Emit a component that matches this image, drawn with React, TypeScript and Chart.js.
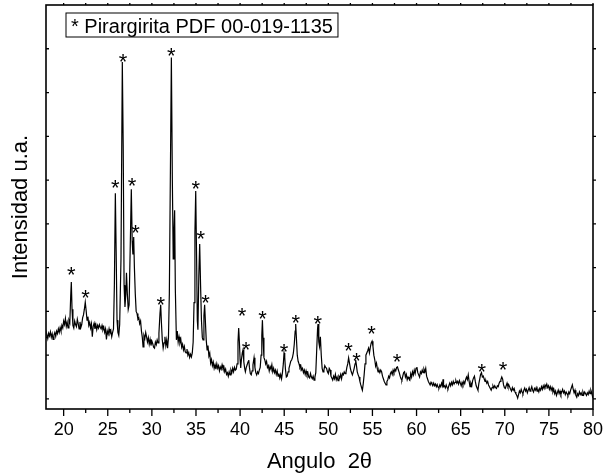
import React, { useEffect, useRef } from "react";
import { Chart, registerables } from "chart.js";

Chart.register(...registerables);

// XRD pattern: [2θ, intensity (a.u.)]
const xrdPoints: [number, number][] = [
  [18.0, 1.4], [18.1, 1.47], [18.2, 1.38], [18.3, 1.5], [18.4, 1.44], [18.5, 1.53], [18.6, 1.41], [18.7, 1.49], [18.8, 1.36], [18.9, 1.46],
  [19.0, 1.52], [19.1, 1.43], [19.2, 1.55], [19.3, 1.49], [19.4, 1.6], [19.5, 1.52], [19.6, 1.63], [19.7, 1.55], [19.8, 1.68], [19.9, 1.62],
  [20.0, 1.78], [20.1, 1.7], [20.2, 1.84], [20.3, 1.66], [20.4, 1.75], [20.5, 1.62], [20.6, 1.8], [20.7, 1.74], [20.8, 2.35], [20.87, 2.67],
  [20.95, 2.05], [21.05, 1.68], [21.15, 1.62], [21.25, 1.78], [21.35, 1.7], [21.45, 1.65], [21.55, 1.82], [21.65, 1.72], [21.75, 1.6], [21.85, 1.76],
  [21.95, 1.63], [22.05, 1.7], [22.15, 1.85], [22.25, 1.92], [22.35, 2.05], [22.45, 2.21], [22.55, 2.02], [22.65, 1.8], [22.75, 1.88], [22.85, 1.68],
  [22.95, 1.75], [23.05, 1.62], [23.15, 1.72], [23.25, 1.42], [23.35, 1.66], [23.45, 1.73], [23.55, 1.6], [23.65, 1.7], [23.75, 1.58], [23.85, 1.68],
  [23.95, 1.62], [24.05, 1.7], [24.15, 1.64], [24.25, 1.6], [24.35, 1.68], [24.45, 1.58], [24.55, 1.64], [24.65, 1.52], [24.75, 1.6], [24.85, 1.36],
  [24.95, 1.55], [25.05, 1.48], [25.15, 1.6], [25.25, 1.5], [25.35, 1.56], [25.45, 1.42], [25.55, 1.52], [25.65, 1.6], [25.75, 2.6], [25.86, 4.7],
  [25.95, 3.4], [26.05, 1.8], [26.15, 1.52], [26.25, 1.45], [26.35, 1.7], [26.5, 3.2], [26.65, 7.7], [26.75, 5.8], [26.85, 2.6], [26.95, 2.1],
  [27.05, 2.4], [27.12, 2.88], [27.22, 2.4], [27.32, 2.05], [27.42, 2.15], [27.55, 3.5], [27.67, 4.79], [27.77, 3.6], [27.85, 3.3], [27.94, 3.7],
  [28.02, 3.0], [28.12, 2.4], [28.22, 2.0], [28.32, 1.95], [28.42, 1.82], [28.52, 1.85], [28.62, 1.72], [28.72, 1.78], [28.82, 1.55], [28.92, 1.4],
  [29.0, 1.19], [29.1, 1.45], [29.2, 1.38], [29.3, 1.52], [29.4, 1.42], [29.5, 1.3], [29.6, 1.4], [29.7, 1.25], [29.8, 1.36], [29.9, 1.22],
  [30.0, 1.32], [30.1, 1.26], [30.2, 1.18], [30.3, 1.16], [30.4, 1.3], [30.5, 1.24], [30.6, 1.35], [30.7, 1.28], [30.8, 1.5], [30.92, 1.95],
  [31.0, 2.15], [31.08, 1.75], [31.18, 1.35], [31.28, 1.16], [31.38, 1.28], [31.48, 1.42], [31.58, 1.22], [31.68, 1.35], [31.78, 1.16], [31.88, 1.4],
  [31.98, 2.4], [32.1, 5.2], [32.21, 7.8], [32.32, 5.0], [32.42, 3.2], [32.5, 3.8], [32.58, 4.31], [32.66, 2.5], [32.78, 1.35], [32.88, 1.55],
  [32.98, 1.3], [33.08, 1.42], [33.18, 1.28], [33.28, 1.36], [33.38, 1.18], [33.48, 1.25], [33.58, 1.12], [33.68, 1.2], [33.78, 1.08], [33.88, 1.05],
  [33.98, 1.14], [34.08, 1.0], [34.18, 1.06], [34.28, 0.95], [34.38, 1.02], [34.48, 0.96], [34.58, 1.05], [34.68, 1.3], [34.78, 2.2], [34.88, 3.8],
  [34.97, 4.75], [35.07, 3.2], [35.15, 1.8], [35.22, 1.58], [35.32, 2.8], [35.42, 3.54], [35.52, 2.6], [35.62, 1.8], [35.72, 1.4], [35.8, 1.35],
  [35.9, 1.9], [35.98, 2.15], [36.06, 1.8], [36.16, 1.35], [36.26, 1.12], [36.36, 1.22], [36.46, 0.98], [36.56, 1.05], [36.66, 0.82], [36.76, 0.9],
  [36.86, 0.76], [36.96, 0.84], [37.06, 0.7], [37.16, 0.78], [37.26, 0.68], [37.36, 0.8], [37.46, 0.7], [37.56, 0.76], [37.66, 0.64], [37.76, 0.73],
  [37.86, 0.68], [37.96, 0.78], [38.06, 0.7], [38.16, 0.74], [38.26, 0.62], [38.36, 0.68], [38.46, 0.56], [38.56, 0.6], [38.66, 0.52], [38.76, 0.62],
  [38.86, 0.55], [38.96, 0.66], [39.06, 0.6], [39.16, 0.7], [39.26, 0.62], [39.36, 0.72], [39.46, 0.66], [39.56, 0.68], [39.66, 0.8], [39.76, 1.3],
  [39.84, 1.62], [39.92, 1.3], [40.0, 0.9], [40.07, 0.71], [40.15, 0.9], [40.25, 1.05], [40.33, 1.12], [40.42, 0.85], [40.52, 0.7], [40.6, 0.62],
  [40.7, 0.72], [40.8, 0.78], [40.9, 0.85], [40.98, 0.89], [41.06, 0.72], [41.16, 0.58], [41.26, 0.55], [41.36, 0.64], [41.46, 0.78], [41.58, 0.94],
  [41.68, 0.72], [41.78, 0.6], [41.88, 0.55], [41.98, 0.62], [42.08, 0.58], [42.18, 0.66], [42.28, 0.72], [42.38, 1.0], [42.46, 1.45], [42.53, 1.8],
  [42.6, 1.4], [42.7, 0.95], [42.8, 0.89], [42.9, 0.8], [43.0, 0.86], [43.1, 0.72], [43.2, 0.76], [43.3, 0.64], [43.4, 0.74], [43.5, 0.68],
  [43.6, 0.78], [43.7, 0.62], [43.8, 0.7], [43.9, 0.6], [44.0, 0.66], [44.1, 0.56], [44.2, 0.64], [44.3, 0.52], [44.4, 0.58], [44.5, 0.48],
  [44.6, 0.56], [44.7, 0.46], [44.8, 0.6], [44.9, 0.8], [44.98, 1.05], [45.06, 0.95], [45.14, 0.68], [45.24, 0.5], [45.34, 0.52], [45.44, 0.62],
  [45.54, 0.7], [45.64, 0.78], [45.74, 0.86], [45.84, 0.89], [45.94, 0.95], [46.04, 1.05], [46.14, 1.25], [46.24, 1.55], [46.3, 1.71], [46.38, 1.4],
  [46.48, 1.0], [46.58, 0.86], [46.68, 0.8], [46.78, 0.72], [46.88, 0.76], [46.98, 0.66], [47.08, 0.7], [47.18, 0.6], [47.28, 0.66], [47.38, 0.56],
  [47.48, 0.64], [47.58, 0.55], [47.68, 0.6], [47.78, 0.5], [47.88, 0.48], [47.98, 0.58], [48.08, 0.5], [48.18, 0.46], [48.28, 0.52], [48.38, 0.43],
  [48.48, 0.5], [48.58, 0.6], [48.68, 1.1], [48.78, 1.6], [48.83, 1.71], [48.92, 1.3], [49.0, 1.2], [49.1, 1.42], [49.2, 1.0], [49.3, 0.7],
  [49.4, 0.62], [49.5, 0.66], [49.6, 0.76], [49.7, 0.72], [49.8, 0.7], [49.9, 0.62], [50.0, 0.58], [50.1, 0.7], [50.2, 0.66], [50.3, 0.52],
  [50.4, 0.48], [50.5, 0.43], [50.6, 0.52], [50.7, 0.46], [50.8, 0.56], [50.9, 0.44], [51.0, 0.5], [51.1, 0.42], [51.2, 0.52], [51.3, 0.48],
  [51.4, 0.56], [51.5, 0.46], [51.6, 0.58], [51.7, 0.55], [51.8, 0.62], [51.9, 0.58], [52.0, 0.6], [52.1, 0.72], [52.2, 0.8], [52.3, 0.94],
  [52.4, 0.82], [52.5, 0.7], [52.6, 0.62], [52.73, 0.55], [52.83, 0.62], [52.93, 0.7], [53.03, 0.8], [53.1, 0.89], [53.18, 0.78], [53.28, 0.62],
  [53.38, 0.55], [53.48, 0.5], [53.58, 0.4], [53.68, 0.32], [53.78, 0.25], [53.86, 0.2], [53.96, 0.35], [54.06, 0.55], [54.16, 0.8], [54.26, 1.0],
  [54.36, 1.05], [54.46, 1.1], [54.56, 1.16], [54.66, 1.05], [54.76, 1.18], [54.86, 1.28], [54.96, 1.32], [55.06, 1.2], [55.16, 1.0], [55.26, 0.9],
  [55.36, 0.75], [55.46, 0.82], [55.56, 0.68], [55.64, 0.62], [55.74, 0.66], [55.84, 0.6], [55.94, 0.66], [56.04, 0.62], [56.14, 0.52], [56.24, 0.46],
  [56.34, 0.4], [56.44, 0.36], [56.54, 0.32], [56.64, 0.4], [56.74, 0.44], [56.84, 0.52], [56.94, 0.48], [57.04, 0.58], [57.14, 0.62], [57.24, 0.56],
  [57.34, 0.66], [57.44, 0.6], [57.54, 0.68], [57.64, 0.64], [57.74, 0.72], [57.84, 0.73], [57.94, 0.66], [58.04, 0.6], [58.14, 0.52], [58.24, 0.46],
  [58.34, 0.43], [58.44, 0.52], [58.54, 0.6], [58.64, 0.62], [58.74, 0.5], [58.84, 0.56], [58.94, 0.44], [59.04, 0.5], [59.14, 0.46], [59.24, 0.43],
  [59.34, 0.58], [59.44, 0.5], [59.54, 0.62], [59.64, 0.55], [59.74, 0.66], [59.84, 0.58], [59.94, 0.7], [60.04, 0.73], [60.14, 0.6], [60.24, 0.55],
  [60.34, 0.5], [60.44, 0.62], [60.54, 0.58], [60.64, 0.66], [60.74, 0.6], [60.84, 0.68], [60.94, 0.62], [61.04, 0.7], [61.14, 0.52], [61.24, 0.46],
  [61.34, 0.4], [61.44, 0.36], [61.54, 0.32], [61.64, 0.38], [61.74, 0.34], [61.84, 0.3], [61.94, 0.36], [62.04, 0.3], [62.14, 0.34], [62.24, 0.28],
  [62.34, 0.33], [62.44, 0.27], [62.54, 0.25], [62.64, 0.32], [62.74, 0.28], [62.84, 0.36], [62.94, 0.3], [63.0, 0.45], [63.06, 0.28], [63.16, 0.3],
  [63.26, 0.25], [63.36, 0.32], [63.46, 0.26], [63.56, 0.23], [63.66, 0.3], [63.76, 0.36], [63.86, 0.3], [63.96, 0.38], [64.06, 0.32], [64.16, 0.4],
  [64.26, 0.34], [64.36, 0.38], [64.46, 0.42], [64.56, 0.36], [64.66, 0.4], [64.76, 0.34], [64.86, 0.42], [64.96, 0.36], [65.06, 0.3], [65.16, 0.38],
  [65.26, 0.32], [65.36, 0.4], [65.46, 0.35], [65.56, 0.44], [65.66, 0.5], [65.76, 0.44], [65.86, 0.55], [65.96, 0.4], [66.06, 0.28], [66.16, 0.36],
  [66.26, 0.3], [66.36, 0.42], [66.46, 0.48], [66.56, 0.52], [66.66, 0.4], [66.76, 0.3], [66.86, 0.25], [66.96, 0.2], [67.06, 0.35], [67.16, 0.45],
  [67.26, 0.56], [67.36, 0.6], [67.46, 0.5], [67.56, 0.52], [67.66, 0.46], [67.76, 0.4], [67.86, 0.42], [67.96, 0.36], [68.06, 0.4], [68.16, 0.32],
  [68.26, 0.28], [68.36, 0.24], [68.46, 0.2], [68.56, 0.26], [68.66, 0.3], [68.76, 0.25], [68.86, 0.3], [68.96, 0.26], [69.06, 0.24], [69.16, 0.3],
  [69.26, 0.28], [69.36, 0.36], [69.46, 0.4], [69.56, 0.44], [69.66, 0.5], [69.76, 0.45], [69.86, 0.32], [69.96, 0.26], [70.06, 0.24], [70.16, 0.3],
  [70.26, 0.36], [70.36, 0.28], [70.46, 0.32], [70.56, 0.27], [70.66, 0.22], [70.76, 0.18], [70.86, 0.26], [70.96, 0.2], [71.06, 0.24], [71.16, 0.16],
  [71.26, 0.12], [71.36, 0.08], [71.46, 0.02], [71.56, 0.1], [71.66, 0.18], [71.76, 0.14], [71.86, 0.22], [71.96, 0.16], [72.06, 0.12], [72.16, 0.2],
  [72.26, 0.25], [72.36, 0.18], [72.46, 0.22], [72.56, 0.14], [72.66, 0.2], [72.76, 0.26], [72.86, 0.18], [72.96, 0.22], [73.06, 0.28], [73.16, 0.2],
  [73.26, 0.16], [73.36, 0.24], [73.46, 0.2], [73.56, 0.26], [73.66, 0.18], [73.76, 0.22], [73.86, 0.16], [73.96, 0.24], [74.06, 0.2], [74.16, 0.28],
  [74.26, 0.22], [74.36, 0.3], [74.46, 0.24], [74.56, 0.32], [74.66, 0.28], [74.76, 0.34], [74.86, 0.26], [74.96, 0.3], [75.06, 0.22], [75.16, 0.28],
  [75.26, 0.2], [75.36, 0.26], [75.46, 0.16], [75.56, 0.22], [75.66, 0.12], [75.76, 0.18], [75.86, 0.08], [75.96, 0.14], [76.06, 0.2], [76.16, 0.12],
  [76.26, 0.18], [76.36, 0.1], [76.46, 0.16], [76.56, 0.22], [76.66, 0.14], [76.76, 0.18], [76.86, 0.1], [76.96, 0.16], [77.06, 0.12], [77.16, 0.08],
  [77.26, 0.16], [77.36, 0.12], [77.46, 0.2], [77.56, 0.26], [77.66, 0.32], [77.76, 0.22], [77.86, 0.14], [77.96, 0.2], [78.06, 0.08], [78.16, 0.04],
  [78.26, 0.12], [78.36, 0.08], [78.46, 0.16], [78.56, 0.1], [78.66, 0.14], [78.76, 0.08], [78.86, 0.16], [78.96, 0.1], [79.06, 0.16], [79.16, 0.12],
  [79.26, 0.08], [79.36, 0.14], [79.46, 0.1], [79.56, 0.18], [79.66, 0.12], [79.76, 0.2], [79.86, 0.14], [79.96, 0.04], [80.0, 0.02],
];

// Peak markers "*" : [2θ, height]
const starMarks: [number, number][] = [
  [20.87, 2.95], [22.49, 2.43], [25.86, 4.94], [26.72, 7.82], [27.74, 4.98], [28.16, 3.91], [31.0, 2.28], [32.21, 7.97],
  [34.97, 4.92], [35.53, 3.78], [36.07, 2.31], [40.22, 2.03], [40.67, 1.25], [42.53, 1.96], [44.98, 1.19], [46.3, 1.87],
  [48.8, 1.83], [52.28, 1.23], [53.19, 1.0], [54.89, 1.61], [57.79, 0.97], [67.39, 0.75], [69.81, 0.79],
];

const xMajorTicks = [20, 25, 30, 35, 40, 45, 50, 55, 60, 65, 70, 75, 80];
const xMinorTicks = [22.5, 27.5, 32.5, 37.5, 42.5, 47.5, 52.5, 57.5, 62.5, 67.5, 72.5, 77.5];
const yTicks = [0, 1, 2, 3, 4, 5, 6, 7, 8];

const X_MIN = 18;
const X_MAX = 80;
const Y_MIN = -0.23;
const Y_MAX = 9;

const legendLabel = "* Pirargirita PDF 00-019-1135";
const xTitle = "Angulo  2θ";
const yTitle = "Intensidad u.a.";

const FONT = "Arial, 'Liberation Sans', sans-serif";

const decorPlugin = {
  id: "decor",
  afterDraw(chart: any) {
    const { ctx, chartArea, scales } = chart;
    const xs = scales.x;
    const ys = scales.y;
    const { left, right, top, bottom } = chartArea;
    ctx.save();
    ctx.strokeStyle = "#000";
    ctx.fillStyle = "#000";
    ctx.lineWidth = 1.6;
    ctx.strokeRect(left, top, right - left, bottom - top);

    ctx.lineWidth = 1.3;
    ctx.beginPath();
    xMajorTicks.forEach((v) => {
      const px = xs.getPixelForValue(v);
      ctx.moveTo(px, bottom);
      ctx.lineTo(px, bottom + 7);
      ctx.moveTo(px, top);
      ctx.lineTo(px, top - 2);
    });
    xMinorTicks.forEach((v) => {
      const px = xs.getPixelForValue(v);
      ctx.moveTo(px, bottom);
      ctx.lineTo(px, bottom + 4);
      ctx.moveTo(px, top);
      ctx.lineTo(px, top - 2);
    });
    yTicks.forEach((v) => {
      const py = ys.getPixelForValue(v);
      ctx.moveTo(left, py);
      ctx.lineTo(left + 3, py);
      ctx.moveTo(right, py);
      ctx.lineTo(right + 3, py);
    });
    ctx.stroke();

    // peak markers
    const starSize = 22;
    ctx.font = `${starSize}px ${FONT}`;
    ctx.textAlign = "center";
    ctx.textBaseline = "alphabetic";
    starMarks.forEach(([x, y]) => {
      const px = xs.getPixelForValue(x);
      const py = ys.getPixelForValue(y);
      ctx.fillText("*", px, py + starSize * 0.57);
    });

    // legend box
    ctx.font = `20px ${FONT}`;
    ctx.textAlign = "left";
    const tw = ctx.measureText(legendLabel).width;
    const bx = left + 20;
    const by = top + 8;
    ctx.lineWidth = 1;
    ctx.strokeRect(bx, by, tw + 10, 24);
    ctx.fillText(legendLabel, bx + 5, by + 19.5);
    ctx.restore();
  },
};

export default function App() {
  const canvasRef = useRef<HTMLCanvasElement | null>(null);

  useEffect(() => {
    document.body.style.margin = "0";
    const canvas = canvasRef.current;
    if (!canvas) return;
    const chart = new Chart(canvas, {
      type: "line",
      data: {
        datasets: [
          {
            data: xrdPoints.map(([x, y]) => ({ x, y })),
            borderColor: "#000",
            borderWidth: 1.2,
            pointRadius: 0,
            tension: 0,
            fill: false,
          },
        ],
      },
      options: {
        animation: false,
        responsive: false,
        maintainAspectRatio: false,
        layout: { padding: { top: 5, right: 10, left: 0, bottom: 0 } },
        plugins: {
          legend: { display: false },
          tooltip: { enabled: false },
        },
        scales: {
          x: {
            type: "linear",
            min: X_MIN,
            max: X_MAX,
            grid: { display: false, drawTicks: false },
            border: { display: false },
            afterBuildTicks: (scale: any) => {
              scale.ticks = xMajorTicks.map((v) => ({ value: v }));
            },
            afterFit: (scale: any) => {
              scale.height = 66;
              scale.paddingRight = 0;
              scale.paddingLeft = 0;
            },
            ticks: {
              autoSkip: false,
              maxRotation: 0,
              padding: 10,
              color: "#000",
              font: { family: FONT, size: 18 },
              callback: (v: any) => String(v),
            },
            title: {
              display: true,
              text: xTitle,
              color: "#000",
              font: { family: FONT, size: 22 },
              padding: { top: 0, bottom: 0 },
            },
          },
          y: {
            type: "linear",
            min: Y_MIN,
            max: Y_MAX,
            grid: { display: false, drawTicks: false },
            border: { display: false },
            ticks: { display: false },
            afterFit: (scale: any) => {
              scale.width = 46;
              scale.paddingTop = 0;
              scale.paddingBottom = 0;
            },
            title: {
              display: true,
              text: yTitle,
              color: "#000",
              font: { family: FONT, size: 22 },
              padding: { top: 8, bottom: 0 },
            },
          },
        },
      },
      plugins: [decorPlugin],
    });
    return () => chart.destroy();
  }, []);

  return (
    <div style={{ width: 603, height: 475, background: "#fff" }}>
      <canvas ref={canvasRef} width={603} height={475} style={{ display: "block" }} />
    </div>
  );
}
